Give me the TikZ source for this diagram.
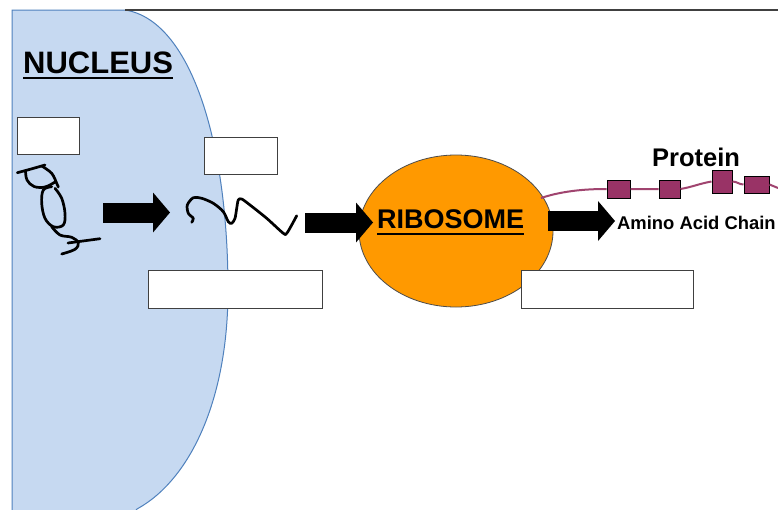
\documentclass[tikz,border=0pt]{standalone}
\usepackage{fontspec}
\setmainfont{Liberation Sans}
\usetikzlibrary{arrows.meta,shapes.geometric}
\definecolor{nucfill}{HTML}{C6D9F1}
\definecolor{nucline}{HTML}{4F81BD}
\definecolor{ribofill}{HTML}{FF9900}
\definecolor{chainline}{HTML}{A0446F}
\definecolor{residue}{HTML}{993366}
\begin{document}
\begin{tikzpicture}[x=1pt,y=-1pt,
  labelbox/.style={draw=black!75,line width=1.3pt,fill=white,inner sep=0pt,anchor=north west},
  blockarrow/.style={line width=20pt,-{Triangle[length=17pt,width=40pt,line width=0pt]}},
  strand/.style={line width=2.7pt,line cap=round,line join=round},
  title/.style={inner sep=0pt,anchor=base west},
  ul/.style={line width=2.6pt},
  residuebox/.style={draw=black,line width=1pt,fill=residue,inner sep=0pt}]
\useasboundingbox (0,0) rectangle (778,509);
\fill[white] (0,0) rectangle (778,509);

% nucleus
\filldraw[fill=nucfill,draw=nucline,line width=1pt]
  (12,520) -- (12,10) -- (125,10)
  .. controls (190,20) and (228,140) .. (228,290)
  .. controls (228,400) and (190,480) .. (137,509) -- (128,520) -- cycle;
% frame line along the top
\draw[black!75,line width=2pt] (125,10) -- (778,10);

% empty label boxes
\node[labelbox,minimum width=62pt,minimum height=37pt] (box1) at (17,117) {};
\node[labelbox,minimum width=73pt,minimum height=37pt] (box2) at (204,137) {};

% DNA coil
\draw[strand] plot[smooth,tension=0.6] coordinates {(17.3,172.7) (30,169.3) (45,165)};
\draw[strand] plot[smooth,tension=0.6] coordinates {(41.7,166) (51.7,173.3) (56.7,183.3) (58.3,187)};
\draw[strand] plot[smooth,tension=0.6] coordinates {(25.5,170.5) (27,180) (34,186.5) (45,187) (55,182)};
\draw[strand] plot[smooth,tension=0.6] coordinates {(51.7,186.7) (43.3,190) (41.7,203.3) (45,218.3) (53.3,226.7) (63.3,225) (65,213.3) (61.7,198.3) (55,188.3)};
\draw[strand] plot[smooth,tension=0.6] coordinates {(51.7,226.7) (60,235) (71.7,237.3) (78.3,242.7) (75,249.3) (61.7,254)};
\draw[strand] (68,243) -- (100,238.7);

% messenger strand
\draw[strand] plot[smooth,tension=0.5] coordinates {(191.7,222.3) (193.3,218.3) (188.3,213.3) (187.3,205) (193.3,197.7) (201.7,198.3) (213.3,203.3) (223.3,211.7) (228.3,221.7) (231.7,223.3) (235,218.3) (236.7,208.3) (238.3,200) (241.7,199) (250,205) (266.7,218.3) (283.3,233.3) (286.7,233.3) (291.7,225) (296.7,215.7)};

% ribosome
\node[ellipse,draw=black!70,line width=0.8pt,fill=ribofill,minimum width=194pt,minimum height=152pt,inner sep=0pt] (ribo) at (456,231) {};
\node[title,font=\bfseries\fontsize{27}{27}\selectfont] (ribotext) at (377,228) {RIBOSOME};
\draw[ul] ([yshift=-6pt]ribotext.base west) -- ([yshift=-6pt]ribotext.base east);

% lower label boxes
\node[labelbox,minimum width=174pt,minimum height=38pt] (box3) at (148,270) {};
\node[labelbox,minimum width=172pt,minimum height=38pt] (box4) at (521,270) {};

% block arrows
\coordinate (a1s) at (103,212.5);
\coordinate (a1e) at (170,212.5);
\coordinate (a2s) at (305,222.5);
\coordinate (a2e) at (373,222.5);
\coordinate (a3s) at (548,221);
\coordinate (a3e) at (615,221);
\draw[blockarrow] (a1s) -- (a1e);
\draw[blockarrow] (a2s) -- (a2e);
\draw[blockarrow] (a3s) -- (a3e);

% title
\node[title,font=\bfseries\fontsize{31}{31}\selectfont] (nuc) at (23,73) {NUCLEUS};
\draw[ul] ([yshift=-5pt]nuc.base west) -- ([yshift=-5pt]nuc.base east);

% protein chain
\node[residuebox,minimum width=23pt,minimum height=18pt] (r1) at (618.5,189) {};
\node[residuebox,minimum width=21pt,minimum height=18pt] (r2) at (669.5,189) {};
\node[residuebox,minimum width=20pt,minimum height=23pt] (r3) at (722,181.5) {};
\node[residuebox,minimum width=25pt,minimum height=17pt] (r4) at (756.5,184.5) {};
\coordinate (cstart) at (541,198);
\coordinate (cend) at (778,188);
\draw[chainline,line width=2pt]
  (cstart) .. controls (565,190) and (590,189) .. (r1.west)
  (r1.east) to[out=0,in=180] (r2.west)
  (r2.east) to[out=10,in=190] (r3.west)
  (r3.east) to[out=0,in=180] (r4.west)
  (r4.east) -- (cend);
\node[title,font=\bfseries\fontsize{25.5}{25.5}\selectfont] (protein) at (652,166) {Protein};
\node[title,font=\bfseries\fontsize{18.4}{18.4}\selectfont] (aminolabel) at (617,229) {Amino Acid Chain};
\end{tikzpicture}
\end{document}
